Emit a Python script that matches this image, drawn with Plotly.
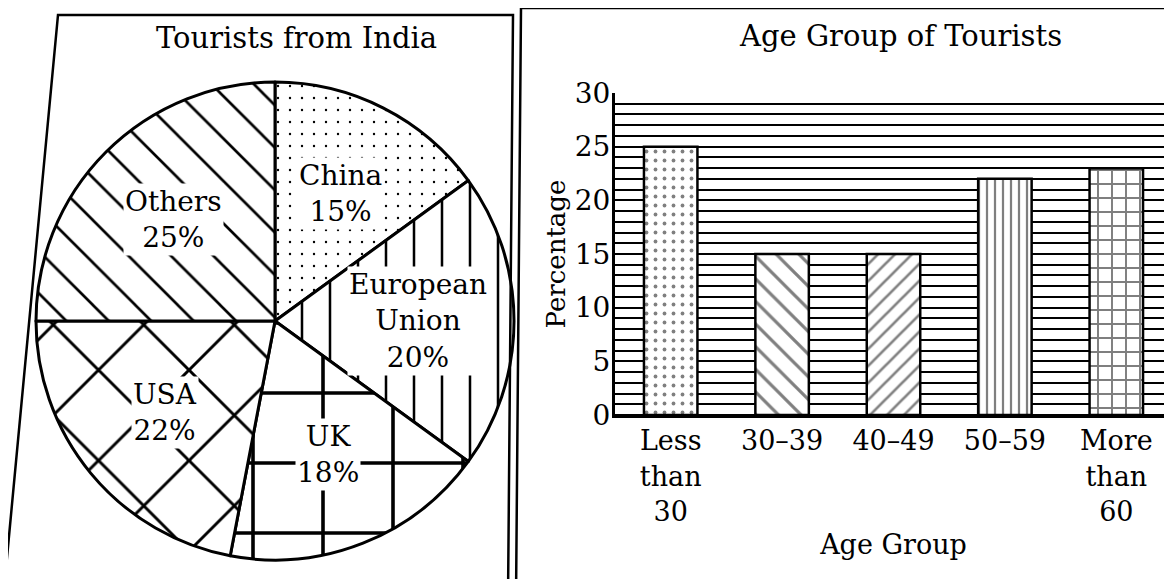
import numpy as np
import plotly.graph_objects as go

# ---- data ----
pie_labels = ["China", "European Union", "UK", "USA", "Others"]
pie_text = ["China", "European<br>Union", "UK", "USA", "Others"]
pie_values = [15, 20, 18, 22, 25]
pie_patterns = [".", "|", "+", "x", "\\"]

age_groups = ["Less than 30", "30–39", "40–49", "50–59", "More than 60"]
age_ticktext = ["Less<br>than<br>30", "30–39", "40–49", "50–59", "More<br>than<br>60"]
age_pct = [25, 15, 15, 22, 23]
bar_patterns = [".", "\\", "/", "|", "+"]

W, H = 1172, 579
OFF = 8  # page body margin
FONT = "DejaVu Serif"


def px(x):
    return (x - OFF) / W


def py(y):
    return 1 - (y - OFF) / H


fig = go.Figure()

# pie domain (square in pixels)
cx, cy, d = 275, 321, 478
fig.add_trace(go.Pie(
    labels=pie_labels, values=pie_values, sort=False, direction="clockwise",
    rotation=0, textinfo="none", hoverinfo="label+percent", showlegend=False,
    marker=dict(colors=["white"] * 5, line=dict(color="black", width=3),
                pattern=dict(shape=pie_patterns, fgcolor="black", bgcolor="white",
                             size=[12, 28, 70, 64, 30], solidity=[0.03, 0.09, 0.1, 0.09, 0.09])),
    domain=dict(x=[px(cx - d / 2), px(cx + d / 2)], y=[py(cy + d / 2), py(cy - d / 2)]),
))

# pie labels placed from the data (mid-angle of each slice)
cum = np.cumsum([0] + pie_values)
total = cum[-1]
r = 0.6 * d / 2
annots = []
for i, (t, v) in enumerate(zip(pie_text, pie_values)):
    mid = (cum[i] + v / 2) / total * 2 * np.pi
    lx = cx + r * np.sin(mid)
    ly = cy - r * np.cos(mid)
    annots.append(dict(x=px(lx), y=py(ly), xref="paper", yref="paper", xanchor="center",
                       yanchor="middle", text=f"{t}<br>{v}%", showarrow=False, bgcolor="white",
                       font=dict(family=FONT, size=28, color="black")))

# bar chart
fig.add_trace(go.Bar(
    x=age_groups, y=age_pct, showlegend=False,
    marker=dict(color="white", line=dict(color="black", width=2.5),
                pattern=dict(shape=bar_patterns, fgcolor="black", bgcolor="white",
                             size=[9, 16, 12, 8, 14], solidity=[0.14, 0.2, 0.22, 0.28, 0.26])),
    xaxis="x", yaxis="y",
))

annots += [
    dict(x=px(296), y=py(38), xref="paper", yref="paper", xanchor="center", yanchor="middle",
         text="Tourists from India", showarrow=False, font=dict(family=FONT, size=29)),
    dict(x=px(900), y=py(36), xref="paper", yref="paper", xanchor="center", yanchor="middle",
         text="Age Group of Tourists", showarrow=False, font=dict(family=FONT, size=29)),
]

fig.update_layout(
    width=W, height=H, margin=dict(l=0, r=0, t=0, b=0, autoexpand=False),
    paper_bgcolor="white", plot_bgcolor="white",
    font=dict(family=FONT, color="black"),
    bargap=0.52,
    xaxis=dict(domain=[px(615), px(1172)], tickvals=age_groups, ticktext=age_ticktext,
               tickfont=dict(size=27), showline=True, linecolor="black", linewidth=3,
               ticks="", showgrid=False, automargin=False,
               title=dict(text="Age Group", font=dict(size=27), standoff=10)),
    yaxis=dict(domain=[py(415), py(93)], range=[0, 30], tickvals=[0, 5, 10, 15, 20, 25, 30],
               tickfont=dict(size=28), showline=True, linecolor="black", linewidth=3,
               ticks="", showgrid=True, gridcolor="black", gridwidth=2.4, automargin=False,
               ticklabelstandoff=-4,
               zeroline=True, zerolinecolor="black", zerolinewidth=3,
               minor=dict(dtick=1, showgrid=True, gridcolor="black", gridwidth=1.9),
               title=dict(text="Percentage", font=dict(size=26), standoff=2)),
    annotations=annots,
    shapes=[
        dict(type="path", xref="paper", yref="paper",
             path=f"M {px(58)},{py(15)} L {px(513)},{py(15)} L {px(508)},{py(600)} L {px(3)},{py(600)} Z",
             line=dict(color="black", width=2.5)),
        dict(type="path", xref="paper", yref="paper",
             path=f"M {px(521)},{py(8)} L {px(1169)},{py(8)} L {px(1169)},{py(600)} L {px(516)},{py(600)} Z",
             line=dict(color="black", width=2.5)),
    ],
)

fig.write_html("out.html")
